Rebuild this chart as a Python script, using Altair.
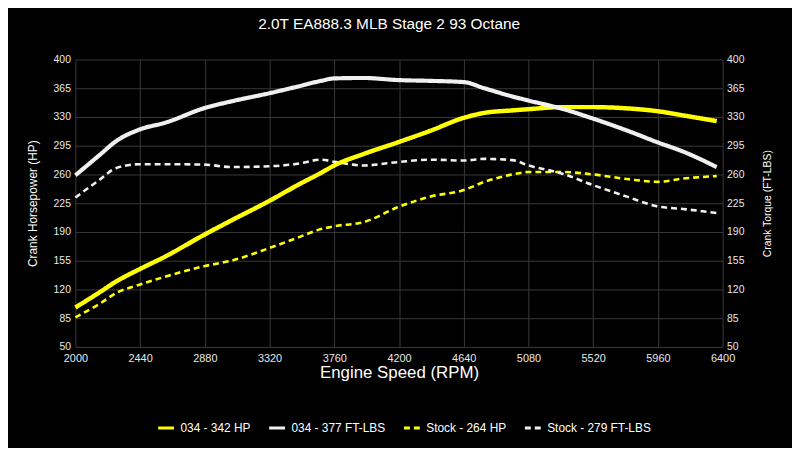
import altair as alt
import pandas as pd

rpm = [2000, 2160, 2280, 2440, 2610, 2880, 3060, 3320, 3510, 3670, 3760, 3960,
       4190, 4410, 4640, 4780, 4970, 5080, 5310, 5520, 5750, 5960, 6130, 6360]
hp_034 = [98, 116, 130, 145, 160, 187, 204, 228, 247, 262, 271, 285,
          299, 313, 329, 335, 338, 339.5, 342, 342, 340.5, 337, 332, 325]
tq_034 = [259, 283, 301, 315, 323, 341, 349, 359, 367, 374, 377, 377.5,
          375, 374, 372.5, 365, 355, 350, 340, 328, 313.5, 299, 288, 269]
hp_stock = [86, 102, 116, 126, 135.5, 148.5, 155, 170.5, 183, 193.5, 197, 202,
            220, 233, 241, 251, 260, 263, 263, 260, 254.5, 251, 255, 258]
tq_stock = [232, 253, 268, 272.5, 272.5, 272, 269, 270, 273, 278, 275.5, 271,
            275, 278, 277, 279, 277.5, 271, 261, 247, 233, 221, 218, 213]

names = ["034 - 342 HP", "034 - 377 FT-LBS", "Stock - 264 HP", "Stock - 279 FT-LBS"]
colors = ["#ffff00", "#f0f0f0", "#ffff00", "#f0f0f0"]
dashes = [[1, 0], [1, 0], [6, 4], [6, 4]]
x_ticks = [2000, 2440, 2880, 3320, 3760, 4200, 4640, 5080, 5520, 5960, 6400]
y_ticks = [50, 85, 120, 155, 190, 225, 260, 295, 330, 365, 400]

rows = []
for name, vals in zip(names, [hp_034, tq_034, hp_stock, tq_stock]):
    for r, v in zip(rpm, vals):
        rows.append({"rpm": r, "value": v, "series": name})
df = pd.DataFrame(rows)

FONT = "Liberation Sans"

legend = alt.Legend(
    title=None, orient="none", direction="horizontal", legendX=82, legendY=362,
    symbolType="stroke", symbolSize=256, symbolStrokeWidth=3,
    labelColor="#ffffff", labelFont=FONT, labelFontSize=12,
    columnPadding=12, labelOffset=5,
)

x_enc = alt.X(
    "rpm:Q",
    scale=alt.Scale(domain=[2000, 6400], nice=False, zero=False),
    axis=alt.Axis(values=x_ticks, title="Engine Speed (RPM)", titleFontSize=17,
                  titleFontWeight="normal", titleColor="#ffffff", titlePadding=1,
                  labelPadding=6, labelFlush=False, format="d"),
)
color_enc = alt.Color("series:N", scale=alt.Scale(domain=names, range=colors), legend=legend)
dash_enc = alt.StrokeDash("series:N", scale=alt.Scale(domain=names, range=dashes), legend=legend)
yscale = alt.Scale(domain=[50, 400], nice=False, zero=False)

left_axis = alt.Axis(values=y_ticks, title="Crank Horsepower (HP)", titleFontSize=12,
                     titleFontWeight="normal", titleColor="#ffffff", titlePadding=14,
                     labelPadding=5, labelFlush=False, labelFontSize=10.5, grid=True)
right_axis = alt.Axis(values=y_ticks, orient="right", title="Crank Torque (FT-LBS)",
                      titleFontSize=10.5, titleFontWeight="normal", titleColor="#ffffff",
                      titleAngle=270, titleBaseline="top", titlePadding=19,
                      labelPadding=4, labelFlush=False, labelFontSize=10.5, grid=False)

base = alt.Chart(df)


def layer(series_name, axis, width):
    return base.transform_filter(alt.datum.series == series_name).mark_line(
        interpolate="monotone", strokeWidth=width, strokeCap="butt"
    ).encode(
        x=x_enc,
        y=alt.Y("value:Q", scale=yscale, axis=axis),
        color=color_enc,
        strokeDash=dash_enc,
    )


chart = alt.layer(
    layer("Stock - 264 HP", left_axis, 2.6),
    layer("Stock - 279 FT-LBS", right_axis, 2.6),
    layer("034 - 342 HP", None, 4.5),
    layer("034 - 377 FT-LBS", None, 4.2),
).resolve_scale(y="independent").properties(
    width=653, height=290,
    title=alt.TitleParams("2.0T EA888.3 MLB Stage 2 93 Octane", color="#ffffff",
                          fontSize=15.5, fontWeight="normal", font=FONT, offset=22, dx=-10),
    autosize=alt.AutoSizeParams(type="none"),
    padding={"left": 68, "top": 50, "right": 70, "bottom": 100},
).configure(
    background="#000000",
).configure_view(
    stroke=None,
).configure_axis(
    labelColor="#e8e8e8", labelFont=FONT, labelFontSize=11, titleFont=FONT,
    gridColor="#3a3a3a", gridWidth=1, domain=False, ticks=False,
)

chart.save("out.html", embed_options={"renderer": "svg", "actions": False})
